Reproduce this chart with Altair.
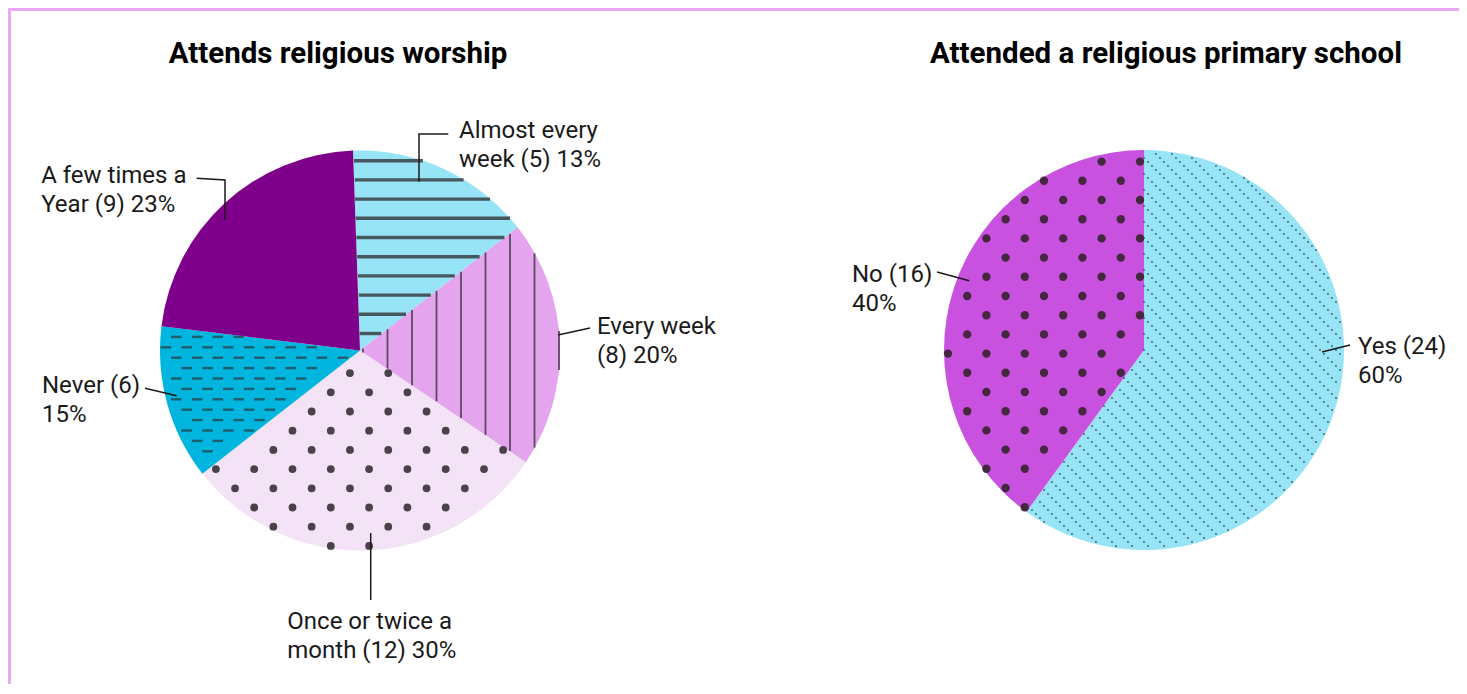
import math
import altair as alt
import pandas as pd

# ---------------- DATA ----------------
worship_categories = ["Almost every week", "Every week", "Once or twice a month",
                      "Never", "A few times a Year"]
worship_counts = [6, 8, 12, 5, 9]          # slice sizes as drawn in the picture
worship_labels = ["Almost every\nweek (5) 13%", "Every week\n(8) 20%",
                  "Once or twice a\nmonth (12) 30%", "Never (6)\n15%",
                  "A few times a\nYear (9) 23%"]

school_categories = ["Yes", "No"]
school_counts = [24, 16]
school_labels = ["Yes (24)\n60%", "No (16)\n40%"]

titles = ["Attends religious worship", "Attended a religious primary school"]

# ---------------- STYLE / LAYOUT ----------------
worship_colors = ["#96E4F6", "#E4A4EE", "#F4E2F7", "#00B5DE", "#7E008A"]
school_colors = ["#97E4F6", "#C951E0"]
INK = "#1A1A1A"
BORDER = "#E8A8F2"
FONT = "Roboto"
R = 200.0            # pie radius in px (= 1 unit)
W, H = 1451, 676     # whole drawing, px

# pie centres (px inside the drawing)
worship_centre = (352.0, 342.5)
school_centre = (1136.0, 342.0)

# label anchors (units relative to pie centre, y downward), leader polylines
worship_label_pos = [(0.495, -1.064), (1.185, -0.085), (-0.3635, 1.394),
                     (-1.59, 0.214), (-1.594, -0.836)]
worship_leaders = [[(0.4415, -1.0825), (0.295, -1.0825), (0.295, -0.844)],
                   [(0.99, -0.0775), (1.15, -0.1125)],
                   [(0.0535, 0.9125), (0.0535, 1.2475)],
                   [(-1.075, 0.189), (-0.9165, 0.226)],
                   [(-0.8165, -0.861), (-0.675, -0.8525), (-0.675, -0.6525)]]
school_label_pos = [(1.07, 0.02), (-1.46, -0.34)]
school_leaders = [[(0.89, 0.01), (1.03, -0.025)],
                  [(-1.035, -0.39), (-0.8735, -0.3465)]]
title_pos = [(-0.11, -1.436), (0.11, -1.434)]

XS = alt.Scale(domain=[0, W / R], nice=False, zero=False)
YS = alt.Scale(domain=[0, H / R], nice=False, zero=False, reverse=True)


def X(f):
    return alt.X(f"{f}:Q", scale=XS, axis=None)


def Y(f):
    return alt.Y(f"{f}:Q", scale=YS, axis=None)


def inside(xe, ye, a0, a1, margin=0.0):
    span = a1 - a0
    ang = f"((atan2({xe}, -({ye}))*180/PI - ({a0}) + 720) % 360)"
    cond = f"(sqrt(({xe})*({xe})+({ye})*({ye})) < {1.0 - margin}) && ({ang} < {span})"
    if margin > 0 and span < 180:
        for a in (a0, a1):
            c, s = math.cos(math.radians(a)), math.sin(math.radians(a))
            cond += f" && abs(({xe})*{c:.6f} + ({ye})*{s:.6f}) > {margin}"
    return cond


def pie_layers(centre, start_deg, cats, counts, colors, labels, label_pos, leaders,
               title, tpos, patterns):
    cx, cy = centre
    ux, uy = cx / R, cy / R
    total = sum(counts)
    bounds = [start_deg]
    acc = 0
    for c in counts:
        acc += c
        bounds.append(start_deg + 360.0 * acc / total)

    df = pd.DataFrame({"cat": cats, "count": counts, "idx": list(range(len(cats)))})
    a0r = math.radians(start_deg)
    pie = alt.Chart(df).mark_arc(radius=R).encode(
        theta=alt.Theta("count:Q", stack=True,
                        scale=alt.Scale(domain=[0, total], range=[a0r, a0r + 2 * math.pi])),
        color=alt.Color("cat:N", scale=alt.Scale(domain=cats, range=colors), legend=None),
        order=alt.Order("idx:Q"),
        x=alt.value(cx), y=alt.value(cy),
    )
    layers = [pie]

    for p in patterns:
        i = p["slice"]
        a0, a1 = bounds[i], bounds[i + 1]
        kind = p["kind"]
        if kind == "dots":
            dx, dy = p["dx"] / R, p["dy"] / R
            ni, nj = int(1.1 / dy) + 1, int(1.2 / dx) + 2
            nr, nc = 2 * ni + 1, 2 * nj + 1
            margin = p["diam"] / 2 / R * 0.4
            ch = alt.Chart(alt.sequence(0, nr * nc, as_="n")).transform_calculate(
                i=f"floor(datum.n / {nc}) - {ni}", j=f"(datum.n % {nc}) - {nj}"
            ).transform_calculate(
                px=f"{p['ox']} + datum.j*{dx} + ((datum.i % 2 + 2) % 2)*{dx / 2}",
                py=f"{p['oy']} + datum.i*{dy}",
            ).transform_filter(inside("datum.px", "datum.py", a0, a1, margin)).transform_calculate(
                gx=f"datum.px + {ux}", gy=f"datum.py + {uy}"
            ).mark_circle(
                size=p["diam"] ** 2, color=p["color"], opacity=1
            ).encode(x=X("gx"), y=Y("gy"))
        elif kind in ("hlines", "vlines"):
            step = 0.004
            ns = int(2.1 / step) + 1
            d = p["d"] / R
            ni = int(1.1 / d) + 1
            nr = 2 * ni + 1
            if kind == "hlines":
                calc = dict(px=f"-1.05 + (datum.n % {ns})*{step}",
                            py=f"{p['o']} + (floor(datum.n / {ns}) - {ni})*{d}")
                grp, var = "py", "px"
            else:
                calc = dict(py=f"-1.05 + (datum.n % {ns})*{step}",
                            px=f"{p['o']} + (floor(datum.n / {ns}) - {ni})*{d}")
                grp, var = "px", "py"
            base = alt.Chart(alt.sequence(0, ns * nr, as_="n")).transform_calculate(
                **calc).transform_filter(inside("datum.px", "datum.py", a0, a1)).transform_aggregate(
                lo=f"min({var})", hi=f"max({var})", groupby=[grp])
            if kind == "hlines":
                ch = base.transform_calculate(
                    glo=f"datum.lo + {ux}", ghi=f"datum.hi + {ux}", gy=f"datum.py + {uy}"
                ).mark_rule(strokeWidth=p["w"], color=p["color"]).encode(
                    x=X("glo"), x2="ghi:Q", y=Y("gy"))
            else:
                ch = base.transform_calculate(
                    glo=f"datum.lo + {uy}", ghi=f"datum.hi + {uy}", gx=f"datum.px + {ux}"
                ).mark_rule(strokeWidth=p["w"], color=p["color"]).encode(
                    y=Y("glo"), y2="ghi:Q", x=X("gx"))
        elif kind == "dashes":
            dx, dy = p["dx"] / R, p["dy"] / R
            hl = p["len"] / 2 / R
            ni, nj = int(1.1 / dy) + 1, int(1.2 / dx) + 2
            nr, nc = 2 * ni + 1, 2 * nj + 1
            ch = alt.Chart(alt.sequence(0, nr * nc, as_="n")).transform_calculate(
                i=f"floor(datum.n / {nc}) - {ni}", j=f"(datum.n % {nc}) - {nj}"
            ).transform_calculate(
                pc=f"{p['ox']} + datum.j*{dx} + ((datum.i % 2 + 2) % 2)*{dx / 2}",
                py=f"{p['oy']} + datum.i*{dy}",
            ).transform_calculate(
                x1=f"datum.pc - {hl}", x2=f"datum.pc + {hl}"
            ).transform_filter(
                inside("datum.x1", "datum.py", a0, a1, 0.003) + " && " +
                inside("datum.x2", "datum.py", a0, a1, 0.003)
            ).transform_calculate(
                g1=f"datum.x1 + {ux}", g2=f"datum.x2 + {ux}", gy=f"datum.py + {uy}"
            ).mark_rule(strokeWidth=p["w"], color=p["color"]).encode(
                x=X("g1"), x2="g2:Q", y=Y("gy"))
        else:  # diagonal dotted lines
            st, sp = p["step"] / R, p["spacing"] / R
            nk, nd = int(1.05 / st) + 1, int(2.15 / sp) + 1
            nkk, ndd = 2 * nk + 1, 2 * nd + 1
            ch = alt.Chart(alt.sequence(0, nkk * ndd, as_="n")).transform_calculate(
                k=f"(datum.n % {nkk}) - {nk}", d=f"floor(datum.n / {nkk}) - {nd}"
            ).transform_calculate(
                px=f"{p['ox']} + datum.d*{sp} + datum.k*{st}",
                py=f"{p['oy']} + datum.k*{st}",
            ).transform_filter(inside("datum.px", "datum.py", a0, a1, 0.004)).transform_calculate(
                gx=f"datum.px + {ux}", gy=f"datum.py + {uy}"
            ).mark_square(
                size=p["size"], color=p["color"], opacity=1
            ).encode(x=X("gx"), y=Y("gy"))
        layers.append(ch)

    # leaders
    rows = []
    for li, pts in enumerate(leaders):
        for k, (lx, ly) in enumerate(pts):
            rows.append({"lid": li, "k": k, "lx": lx + ux, "ly": ly + uy})
    layers.append(alt.Chart(pd.DataFrame(rows)).mark_line(color=INK, strokeWidth=1.5).encode(
        x=X("lx"), y=Y("ly"), detail="lid:N", order=alt.Order("k:Q")))

    ldf = pd.DataFrame({"label": labels, "tx": [q[0] + ux for q in label_pos],
                        "ty": [q[1] + uy for q in label_pos]})
    layers.append(alt.Chart(ldf).mark_text(
        align="left", baseline="alphabetic", fontSize=24, font=FONT, color=INK,
        lineBreak="\n", lineHeight=29
    ).encode(x=X("tx"), y=Y("ty"), text="label:N"))

    tdf = pd.DataFrame({"t": [title], "tx": [tpos[0] + ux], "ty": [tpos[1] + uy]})
    layers.append(alt.Chart(tdf).mark_text(
        align="center", baseline="alphabetic", fontSize=29.5, font=FONT, fontWeight="bold",
        color="#000000"
    ).encode(x=X("tx"), y=Y("ty"), text="t:N"))
    return layers


worship_patterns = [
    dict(slice=0, kind="hlines", o=-0.949, d=19.2, w=3.4, color="#46575D"),
    dict(slice=1, kind="vlines", o=0.995, d=24.5, w=1.8, color="#5C4A60"),
    dict(slice=2, kind="dots", ox=-0.146, oy=0.017, dx=38.3, dy=19.2, diam=7.8, color="#4B4249"),
    dict(slice=3, kind="dashes", ox=-0.8665, oy=-0.016, dx=20.8, dy=10.4, len=10.5, w=2.4, color="#1E5E6E"),
]
school_patterns = [
    dict(slice=0, kind="diag", ox=0.0, oy=0.0, step=4.0, spacing=16.0, size=2.5, color="#2E4A55"),
    dict(slice=1, kind="dots", ox=-0.02, oy=0.018, dx=38.4, dy=19.2, diam=8.4, color="#45283F"),
]

layers = []
layers += pie_layers(worship_centre, -2.0, worship_categories, worship_counts, worship_colors,
                     worship_labels, worship_label_pos, worship_leaders, titles[0], title_pos[0],
                     worship_patterns)
layers += pie_layers(school_centre, 0.0, school_categories, school_counts, school_colors,
                     school_labels, school_label_pos, school_leaders, titles[1], title_pos[1],
                     school_patterns)

one = pd.DataFrame({"z": [0]})
layers.append(alt.Chart(one).mark_rule(color=BORDER, strokeWidth=3).encode(
    x=alt.value(0), x2=alt.value(W), y=alt.value(1.5)))
layers.append(alt.Chart(one).mark_rule(color=BORDER, strokeWidth=3).encode(
    x=alt.value(1.5), y=alt.value(0), y2=alt.value(H)))

chart = alt.layer(*layers).resolve_scale(
    theta="independent", color="independent"
).properties(
    width=W, height=H, padding=0, autosize=alt.AutoSizeParams(type="none")
).configure_view(strokeWidth=0)

chart.save("out.html", embed_options={"renderer": "svg", "actions": False})
